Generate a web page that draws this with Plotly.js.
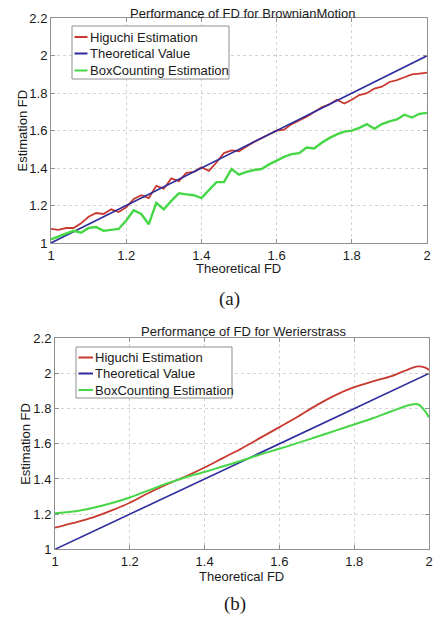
<!DOCTYPE html>
<html>
<head>
<meta charset="utf-8">
<script src="https://cdn.plot.ly/plotly-3.0.1.min.js"></script>
<style>html,body{margin:0;padding:0;background:#fff;}#chart{width:433px;height:618px;}</style>
</head>
<body>
<div id="chart"></div>
<script>
// ---------- Data: (a) Brownian Motion ----------
var xBrown = [1.00,1.02,1.04,1.06,1.08,1.10,1.12,1.14,1.16,1.18,1.20,1.22,1.24,1.26,1.28,1.30,1.32,1.34,1.36,1.38,1.40,1.42,1.44,1.46,1.48,1.50,1.52,1.54,1.56,1.58,1.60,1.62,1.64,1.66,1.68,1.70,1.72,1.74,1.76,1.78,1.80,1.82,1.84,1.86,1.88,1.90,1.92,1.94,1.96,1.98,2.00];
var higuchiBrown = [1.075,1.07,1.08,1.08,1.105,1.14,1.16,1.155,1.18,1.165,1.19,1.235,1.255,1.24,1.305,1.29,1.345,1.33,1.375,1.38,1.405,1.385,1.43,1.48,1.495,1.49,1.515,1.54,1.56,1.58,1.60,1.605,1.635,1.655,1.675,1.70,1.725,1.74,1.765,1.745,1.765,1.79,1.80,1.825,1.835,1.86,1.87,1.885,1.90,1.905,1.91];
var boxBrown = [1.02,1.035,1.05,1.065,1.055,1.08,1.085,1.065,1.07,1.075,1.12,1.175,1.155,1.10,1.215,1.18,1.225,1.265,1.26,1.255,1.24,1.285,1.325,1.325,1.395,1.365,1.38,1.39,1.395,1.42,1.44,1.46,1.475,1.48,1.51,1.505,1.535,1.56,1.58,1.595,1.60,1.615,1.635,1.61,1.635,1.65,1.66,1.685,1.67,1.69,1.695];
var xTheory = [1, 2];
var yTheory = [1, 2];

// ---------- Data: (b) Werierstrass ----------
var xWeier = [1.00,1.05,1.10,1.15,1.20,1.25,1.30,1.35,1.40,1.45,1.50,1.55,1.60,1.65,1.70,1.75,1.80,1.85,1.90,1.95,1.97,1.99,2.00];
var higuchiWeier = [1.123,1.15,1.18,1.22,1.265,1.32,1.37,1.415,1.465,1.52,1.575,1.635,1.695,1.755,1.82,1.877,1.922,1.955,1.985,2.028,2.04,2.033,2.02];
var boxWeier = [1.205,1.215,1.235,1.262,1.295,1.335,1.375,1.41,1.44,1.472,1.505,1.54,1.572,1.605,1.64,1.675,1.71,1.745,1.785,1.822,1.825,1.785,1.75];

var legendNames = ['Higuchi Estimation', 'Theoretical Value', 'BoxCounting Estimation'];
var xTickVals = [1, 1.2, 1.4, 1.6, 1.8, 2];
var yTickVals = [1, 1.2, 1.4, 1.6, 1.8, 2, 2.2];

var cRed = '#c8392f', cBlue = '#2c2c9c', cGreen = '#46d646';
var colors = [cRed, cBlue, cGreen];
var F = 'Arial, "Liberation Sans", sans-serif';
var TXT = '#1a1a1a';

var traces = [
  {x: xBrown, y: higuchiBrown, mode: 'lines', name: legendNames[0], line: {color: cRed, width: 1.8}, xaxis: 'x', yaxis: 'y'},
  {x: xTheory, y: yTheory, mode: 'lines', name: legendNames[1], line: {color: cBlue, width: 1.6}, xaxis: 'x', yaxis: 'y'},
  {x: xBrown, y: boxBrown, mode: 'lines', name: legendNames[2], line: {color: cGreen, width: 2.4}, xaxis: 'x', yaxis: 'y'},
  {x: xWeier, y: higuchiWeier, mode: 'lines', name: legendNames[0], line: {color: cRed, width: 1.8, shape: 'spline', smoothing: 0.8}, xaxis: 'x2', yaxis: 'y2'},
  {x: xTheory, y: yTheory, mode: 'lines', name: legendNames[1], line: {color: cBlue, width: 1.6}, xaxis: 'x2', yaxis: 'y2'},
  {x: xWeier, y: boxWeier, mode: 'lines', name: legendNames[2], line: {color: cGreen, width: 2.0, shape: 'spline', smoothing: 0.8}, xaxis: 'x2', yaxis: 'y2'}
];

function ax(extra) {
  var a = {
    showline: true, linecolor: '#8f8f8f', linewidth: 1, mirror: 'ticks',
    ticks: 'inside', ticklen: 4, tickcolor: '#8f8f8f',
    showgrid: true, gridcolor: '#d4d4d4', griddash: 'dot', gridwidth: 1,
    zeroline: false, tickfont: {family: F, size: 13, color: TXT},
    fixedrange: true
  };
  for (var k in extra) a[k] = extra[k];
  return a;
}

var W = 433, H = 618;
function px(v) { return v / W; }
function py(v) { return 1 - v / H; }

var shapes = [];
var annotations = [
  {text: 'Performance of FD for BrownianMotion', x: px(242), y: py(13)},
  {text: 'Theoretical FD', x: px(238), y: py(268.5)},
  {text: 'Estimation FD', x: px(22), y: py(130.5), textangle: -90},
  {text: '(a)', x: px(230), y: py(299), font: {family: '"Times New Roman", "Liberation Serif", serif', size: 19, color: TXT}},
  {text: 'Performance of FD for Werierstrass', x: px(243), y: py(331)},
  {text: 'Theoretical FD', x: px(241), y: py(576)},
  {text: 'Estimation FD', x: px(26), y: py(443.8), textangle: -90},
  {text: '(b)', x: px(235), y: py(604), font: {family: '"Times New Roman", "Liberation Serif", serif', size: 19, color: TXT}}
];

// Legends (drawn as box + line samples + text, in paper coordinates)
function addLegend(box, lineX0, lineX1, textX, rowsY) {
  shapes.push({type: 'rect', xref: 'paper', yref: 'paper', x0: px(box[0]), x1: px(box[1]), y0: py(box[3]), y1: py(box[2]),
               line: {color: '#8f8f8f', width: 1}, fillcolor: '#ffffff', layer: 'above'});
  for (var i = 0; i < legendNames.length; i++) {
    shapes.push({type: 'line', xref: 'paper', yref: 'paper', x0: px(lineX0), x1: px(lineX1), y0: py(rowsY[i]), y1: py(rowsY[i]),
                 line: {color: colors[i], width: 2}, layer: 'above'});
    annotations.push({text: legendNames[i], x: px(textX), y: py(rowsY[i]), xanchor: 'left'});
  }
}
addLegend([72, 229, 26, 79], 74.5, 87.5, 87.5, [37, 53.5, 70.5]);
addLegend([76, 232, 347, 398], 78.5, 93, 93, [357.5, 373.5, 390]);

annotations = annotations.map(function (a) {
  var b = {xref: 'paper', yref: 'paper', xanchor: 'center', yanchor: 'middle', showarrow: false, font: {family: F, size: 13, color: TXT}};
  for (var k in a) b[k] = a[k];
  return b;
});

var layout = {
  width: W, height: H,
  margin: {l: 0, r: 0, t: 0, b: 0},
  paper_bgcolor: '#fff', plot_bgcolor: '#fff',
  font: {family: F, size: 13, color: TXT},
  showlegend: false,
  xaxis: ax({domain: [px(51), px(427)], range: [1, 2], tickvals: xTickVals, anchor: 'y'}),
  yaxis: ax({domain: [py(243), py(18.3)], range: [1, 2.2], tickvals: yTickVals, anchor: 'x'}),
  xaxis2: ax({domain: [px(55), px(429)], range: [1, 2], tickvals: xTickVals, anchor: 'y2'}),
  yaxis2: ax({domain: [py(549.3), py(338.3)], range: [1, 2.2], tickvals: yTickVals, anchor: 'x2'}),
  shapes: shapes,
  annotations: annotations
};

Plotly.newPlot('chart', traces, layout, {displayModeBar: false, staticPlot: true});
</script>
</body>
</html>
